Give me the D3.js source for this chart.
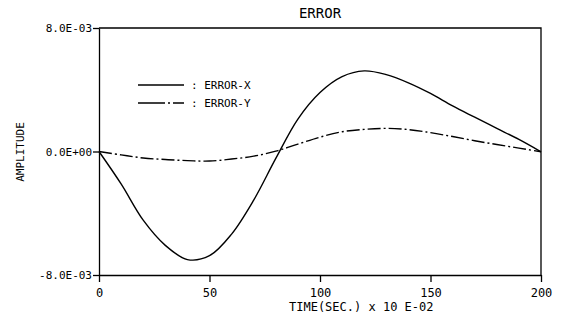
<!DOCTYPE html>
<html>
<head>
<meta charset="utf-8">
<script src="https://cdn.jsdelivr.net/npm/d3@7"></script>
<style>
  html, body { margin: 0; padding: 0; background: #fff; }
  svg { display: block; }
  text { font-family: "DejaVu Sans Mono", monospace; fill: #000; }
</style>
</head>
<body>
<svg id="chart" width="569" height="324"></svg>
<script>
// ---- data ----
const time = [0, 10, 20, 30, 40, 50, 60, 70, 80, 90, 100, 110, 120, 130, 140, 150, 160, 170, 180, 190, 200];
const errorX = [0, -2.10e-3, -4.45e-3, -6.08e-3, -7.00e-3, -6.75e-3, -5.35e-3, -3.15e-3, -0.45e-3, 2.10e-3, 3.82e-3,
                4.85e-3, 5.22e-3, 4.98e-3, 4.45e-3, 3.76e-3, 2.95e-3, 2.22e-3, 1.50e-3, 0.78e-3, -0.02e-3];
const errorY = [0, -0.22e-3, -0.42e-3, -0.52e-3, -0.59e-3, -0.62e-3, -0.49e-3, -0.30e-3, 0.02e-3, 0.48e-3, 0.93e-3,
                1.28e-3, 1.43e-3, 1.50e-3, 1.42e-3, 1.22e-3, 0.97e-3, 0.70e-3, 0.45e-3, 0.22e-3, -0.02e-3];
const xTickValues = [0, 50, 100, 150, 200];
const xTickLabels = ["0", "50", "100", "150", "200"];
const yTickValues = [-8e-3, 0, 8e-3];
const yTickLabels = ["-8.0E-03", "0.0E+00", "8.0E-03"];
const seriesNames = [": ERROR-X", ": ERROR-Y"];
const titleText = "ERROR";
const xLabel = "TIME(SEC.) x 10 E-02";
const yLabel = "AMPLITUDE";

// ---- layout ----
const svg = d3.select("#chart");
const mLeft = 99, mRight = 541, mTop = 28, mBottom = 275;

const x = d3.scaleLinear().domain([0, 200]).range([mLeft, mRight]);
const y = d3.scaleLinear().domain([-8e-3, 8e-3]).range([mBottom, mTop]);

// frame (top and right)
svg.append("path")
  .attr("d", `M${mLeft},${mTop}H${mRight}V${mBottom}`)
  .attr("fill", "none").attr("stroke", "#000").attr("stroke-width", 1.3);

// x axis
const xAxis = d3.axisBottom(x)
  .tickValues(xTickValues)
  .tickFormat((d, i) => xTickLabels[i])
  .tickSizeInner(7).tickSizeOuter(0).tickPadding(4);
const gx = svg.append("g").attr("transform", `translate(0,${mBottom})`).call(xAxis);
gx.select(".domain").attr("stroke-width", 1.3);
gx.selectAll(".tick line").attr("stroke-width", 1.3);
gx.selectAll(".tick text").attr("font-family", "DejaVu Sans Mono").attr("font-size", 12).attr("dy", "0.9em");

// y axis
const yAxis = d3.axisLeft(y)
  .tickValues(yTickValues)
  .tickFormat((d, i) => yTickLabels[i])
  .tickSizeInner(6).tickSizeOuter(0).tickPadding(1);
const gy = svg.append("g").attr("transform", `translate(${mLeft},0)`).call(yAxis);
gy.select(".domain").attr("stroke-width", 1.3);
gy.selectAll(".tick line").attr("stroke-width", 1.3);
gy.selectAll(".tick text").attr("font-family", "DejaVu Sans Mono").attr("font-size", 11);

// lines
const line = d3.line().curve(d3.curveCatmullRom.alpha(0.5))
  .x(d => x(d[0])).y(d => y(d[1]));

svg.append("path")
  .datum(time.map((t, i) => [t, errorX[i]]))
  .attr("d", line)
  .attr("fill", "none").attr("stroke", "#000").attr("stroke-width", 1.4);

svg.append("path")
  .datum(time.map((t, i) => [t, errorY[i]]))
  .attr("d", line)
  .attr("fill", "none").attr("stroke", "#000").attr("stroke-width", 1.4)
  .attr("stroke-dasharray", "13,3,2,3");

// title
svg.append("text").attr("x", (mLeft + mRight) / 2).attr("y", 18)
  .attr("text-anchor", "middle")
  .attr("font-family", "DejaVu Sans Condensed, DejaVu Sans")
  .attr("font-size", 14).text(titleText);

// axis labels
svg.append("text").attr("x", 289).attr("y", 311)
  .attr("font-size", 12).text(xLabel);

svg.append("text")
  .attr("transform", `translate(24,152) rotate(-90)`)
  .attr("text-anchor", "middle")
  .attr("font-size", 11).text(yLabel);

// legend
const legendY = [85, 103];
const dashes = [null, "27,3,2,3"];
legendY.forEach((ly, i) => {
  svg.append("line").attr("x1", 138).attr("x2", 184).attr("y1", ly).attr("y2", ly)
    .attr("stroke", "#000").attr("stroke-width", 1.4)
    .attr("stroke-dasharray", dashes[i]);
  svg.append("text").attr("x", 191).attr("y", ly + 4)
    .attr("font-size", 11).text(seriesNames[i]);
});
</script>
</body>
</html>
